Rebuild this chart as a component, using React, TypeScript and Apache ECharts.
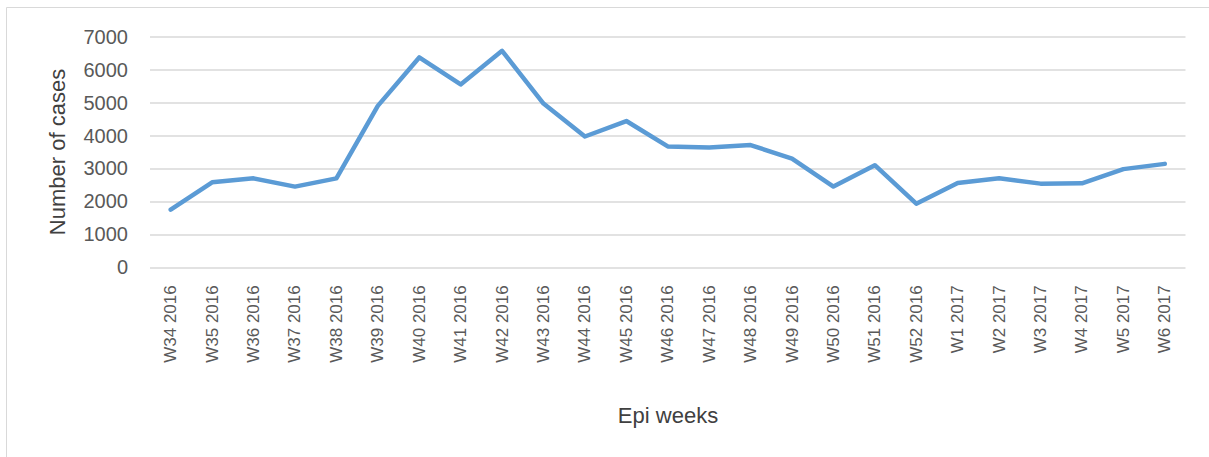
import React, { useEffect, useRef } from "react";
import * as echarts from "echarts";

const weeks: string[] = [
  "W34 2016", "W35 2016", "W36 2016", "W37 2016", "W38 2016", "W39 2016",
  "W40 2016", "W41 2016", "W42 2016", "W43 2016", "W44 2016", "W45 2016",
  "W46 2016", "W47 2016", "W48 2016", "W49 2016", "W50 2016", "W51 2016",
  "W52 2016", "W1 2017", "W2 2017", "W3 2017", "W4 2017", "W5 2017", "W6 2017",
];

const cases: number[] = [
  1750, 2580, 2700, 2450, 2700, 4900,
  6370, 5550, 6570, 4970, 3970, 4440,
  3670, 3640, 3710, 3300, 2450, 3100,
  1930, 2560, 2700, 2540, 2550, 2980, 3140,
];

const yAxisTitle = "Number of cases";
const xAxisTitle = "Epi weeks";

export default function App() {
  const ref = useRef<HTMLDivElement>(null);
  useEffect(() => {
    document.body.style.margin = "0";
    if (!ref.current) return;
    const chart = echarts.init(ref.current, undefined, { renderer: "svg" });
    const font = "'Liberation Sans', Arial, sans-serif";
    chart.setOption({
      animation: false,
      backgroundColor: "#ffffff",
      grid: { left: 150, right: 23.5, top: 36.7, bottom: 189.7, containLabel: false },
      xAxis: {
        type: "category",
        data: weeks,
        boundaryGap: true,
        axisLine: { show: false },
        axisTick: { show: false },
        axisLabel: {
          rotate: 90,
          margin: 18,
          color: "#595959",
          fontSize: 17,
          fontFamily: font,
          interval: 0,
        },
      },
      yAxis: {
        type: "value",
        min: 0,
        max: 7000,
        interval: 1000,
        axisLine: { show: false },
        axisTick: { show: false },
        splitLine: { lineStyle: { color: "#D9D9D9", width: 1.5 } },
        axisLabel: {
          color: "#595959",
          fontSize: 20,
          fontFamily: font,
          margin: 22,
          formatter: (v: number) => String(v),
        },
      },
      graphic: [
        {
          type: "rect",
          shape: { x: 6.5, y: 7.5, width: 1400, height: 600 },
          style: { fill: "none", stroke: "#D9D9D9", lineWidth: 1 },
          silent: true,
        },
        {
          type: "text",
          x: 57,
          y: 152,
          rotation: Math.PI / 2,
          style: {
            text: yAxisTitle,
            fill: "#404040",
            fontSize: 22,
            fontFamily: font,
            textAlign: "center",
            textVerticalAlign: "middle",
          },
        },
        {
          type: "text",
          x: 668,
          y: 415,
          style: {
            text: xAxisTitle,
            fill: "#404040",
            fontSize: 22,
            fontFamily: font,
            textAlign: "center",
            textVerticalAlign: "middle",
          },
        },
      ],
      series: [
        {
          type: "line",
          data: cases,
          showSymbol: false,
          symbol: "none",
          lineStyle: { color: "#5B9BD5", width: 4.5, join: "round", cap: "round" },
          itemStyle: { color: "#5B9BD5" },
        },
      ],
    });
    return () => chart.dispose();
  }, []);
  return <div ref={ref} style={{ width: 1209, height: 457 }} />;
}
